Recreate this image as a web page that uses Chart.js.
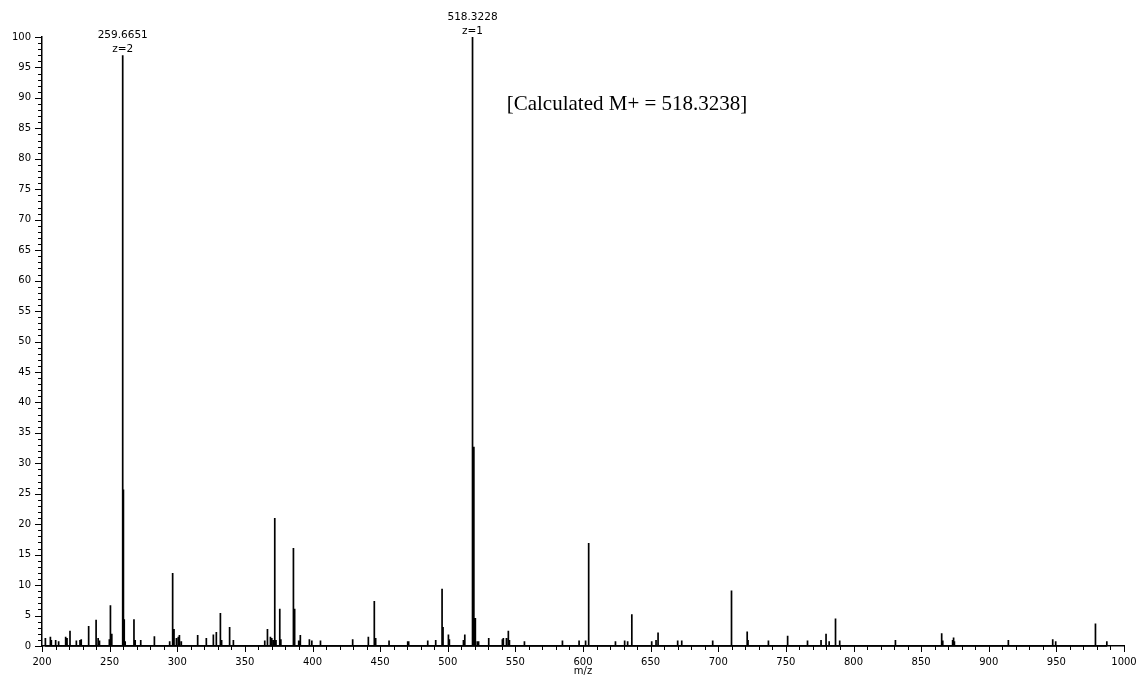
<!DOCTYPE html>
<html><head><meta charset="utf-8">
<script src="https://cdn.jsdelivr.net/npm/chart.js@4"></script>
<style>html,body{margin:0;padding:0;background:#fff}#wrap{width:1140px;height:679px;position:relative}</style>
</head><body><div id="wrap"><canvas id="c"></canvas></div>
<script>
// ---- data ----
const peakMz = [202.5,206.2,206.9,210.1,212.3,217.5,218.5,220.7,225.4,228.1,229.0,234.5,240.0,241.5,242.5,249.8,250.6,251.6,
  259.67,260.2,260.8,261.5,268.0,268.9,273.0,283.1,294.4,296.6,297.6,299.4,300.8,301.6,303.0,315.1,321.5,326.7,328.9,331.9,332.8,
  338.3,339.0,341.5,364.7,366.7,368.9,369.9,371.2,372.1,373.0,375.8,376.6,385.9,386.8,389.8,391.0,397.7,399.5,405.9,429.7,441.3,
  445.7,446.7,456.6,470.4,471.1,485.2,491.1,495.8,496.5,500.5,501.2,511.6,512.6,518.32,519.3,520.4,521.9,522.8,530.3,540.4,541.1,
  543.4,544.8,545.6,556.7,584.8,597.1,601.5,602.2,604.2,624.0,630.8,633.0,636.1,650.8,654.0,655.5,670.0,673.0,695.9,709.8,721.4,
  722.0,737.1,751.3,766.0,776.0,779.7,782.0,786.7,789.8,831.0,865.2,866.0,873.3,874.0,874.6,914.5,947.3,949.5,978.9,987.3];
const peakIntensity = [1.3,1.5,1.0,1.0,0.8,1.5,1.3,2.5,0.9,1.0,1.1,3.3,4.3,1.3,0.9,1.1,6.7,2.0,
  97.0,25.7,4.4,0.8,4.4,1.0,1.0,1.6,0.8,12.0,2.8,1.3,1.5,1.8,0.8,1.8,1.3,1.9,2.3,5.4,1.0,
  3.1,0.8,1.0,0.9,2.8,1.5,1.3,1.0,21.0,1.0,6.1,1.1,16.1,6.1,0.9,1.8,1.1,0.9,0.9,1.1,1.5,
  7.4,1.3,0.9,0.8,0.8,0.9,1.0,9.4,3.1,1.9,1.1,1.0,1.9,100,32.7,4.6,0.8,0.8,1.3,1.1,1.3,
  1.3,2.5,1.0,0.8,0.9,0.9,0.8,0.9,16.9,0.8,0.9,0.8,5.2,0.8,1.0,2.2,0.9,0.9,0.9,9.1,2.4,
  1.0,0.9,1.7,0.9,1.0,2.0,0.8,4.5,0.9,1.0,2.1,0.9,1.0,1.4,0.8,1.0,1.1,0.8,3.7,0.8];
const labeledMz = [259.6651, 518.3228];
const labeledIntensity = [97.0, 100];
const labeledText = ['259.6651', '518.3228'];
const labeledCharge = ['z=2', 'z=1'];
const noteText = '[Calculated M+ = 518.3238]';
const noteAt = [543.6, 89.0];
const xAxisTitle = 'm/z';
const xRange = [200, 1000];
const yRange = [0, 100];

// ---- stick spectrum built from the arrays ----
const sticks = [];
peakMz.forEach((mz, i) => {
  sticks.push({x: mz, y: 0}, {x: mz, y: peakIntensity[i]}, {x: mz, y: 0});
});

const FONT = 'DejaVu Sans';

const decor = {
  id: 'decor',
  afterDraw(chart) {
    const {ctx, chartArea: a, scales: {x, y}} = chart;
    ctx.save();
    ctx.strokeStyle = '#000';
    ctx.lineWidth = 1;
    ctx.beginPath();
    for (let v = yRange[0]; v <= yRange[1]; v += 1) {
      const py = Math.round(y.getPixelForValue(v)) + 0.5;
      const len = v % 5 === 0 ? 7 : 4;
      ctx.moveTo(a.left - len, py); ctx.lineTo(a.left, py);
    }
    for (let v = xRange[0]; v <= xRange[1]; v += 10) {
      const px = Math.round(x.getPixelForValue(v)) + 0.5;
      const len = v % 50 === 0 ? 6 : 4;
      ctx.moveTo(px, a.bottom); ctx.lineTo(px, a.bottom + len);
    }
    ctx.stroke();

    ctx.fillStyle = '#000';
    ctx.textAlign = 'center';
    ctx.textBaseline = 'middle';
    ctx.font = '10.5px "' + FONT + '"';
    labeledMz.forEach((mz, i) => {
      const px = x.getPixelForValue(mz);
      const top = y.getPixelForValue(labeledIntensity[i]);
      ctx.fillText(labeledText[i], px, top - 20);
      ctx.fillText(labeledCharge[i], px, top - 6);
    });

    ctx.font = '10px "' + FONT + '"';
    ctx.fillText(xAxisTitle, (a.left + a.right) / 2, 671);

    ctx.font = '21px "Liberation Serif"';
    ctx.textAlign = 'left';
    ctx.fillText(noteText, x.getPixelForValue(noteAt[0]), y.getPixelForValue(noteAt[1]));
    ctx.restore();
  }
};

new Chart(document.getElementById('c'), {
  type: 'line',
  data: {
    datasets: [{
      data: sticks,
      borderColor: '#000',
      borderWidth: 1.7,
      borderJoinStyle: 'bevel',
      pointRadius: 0,
      tension: 0,
      fill: false,
      clip: false
    }]
  },
  options: {
    responsive: true,
    maintainAspectRatio: false,
    animation: false,
    layout: {padding: {top: 37, right: 16, left: 0, bottom: 0}},
    plugins: {legend: {display: false}, tooltip: {enabled: false}},
    scales: {
      x: {
        type: 'linear', min: xRange[0], max: xRange[1],
        grid: {display: false, drawTicks: false},
        border: {display: true, color: '#000', width: 1.5},
        ticks: {stepSize: 50, autoSkip: false, maxRotation: 0, padding: 10, color: '#000',
          font: {family: FONT, size: 10}, callback: v => String(v)},
        afterFit(s) { s.height = 33; s.paddingLeft = 0; s.paddingRight = 0; }
      },
      y: {
        type: 'linear', min: yRange[0], max: yRange[1],
        grid: {display: false, drawTicks: false},
        border: {display: true, color: '#000', width: 1.5},
        ticks: {stepSize: 5, autoSkip: false, padding: 11, color: '#000',
          font: {family: FONT, size: 10}, callback: v => String(v)},
        afterFit(s) { s.width = 42; s.paddingTop = 0; s.paddingBottom = 0; }
      }
    }
  },
  plugins: [decor]
});
</script>
</body></html>
